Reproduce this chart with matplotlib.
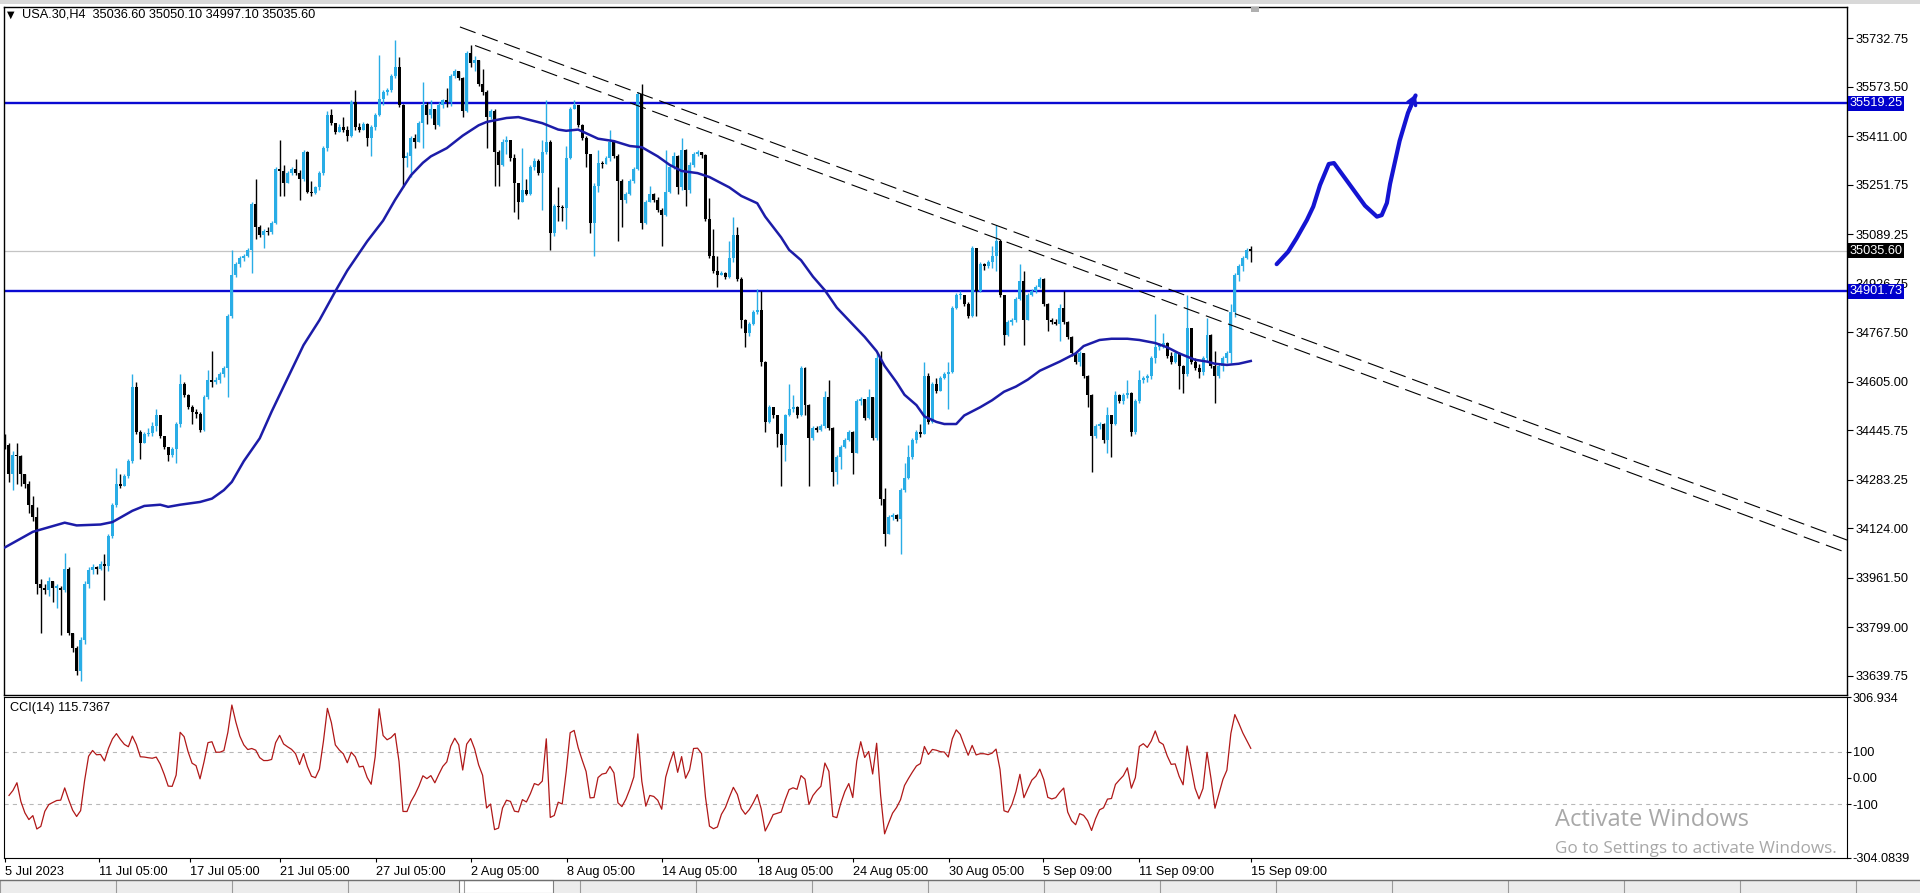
import numpy as np
import pandas as pd
import matplotlib
matplotlib.use('Agg')
import matplotlib.pyplot as plt
from matplotlib.patches import Rectangle
from matplotlib.transforms import blended_transform_factory

plt.rcParams['font.family'] = ['Liberation Sans', 'DejaVu Sans']
plt.rcParams['lines.scale_dashes'] = False

# ---- USA.30 H4 candles, open = previous close ----
first_open = 34419.0
close = [
    34398, 34303, 34364, 34360, 34303, 34269, 34201, 34160, 33942, 33929,
    33922, 33949, 33929, 33929, 33922, 33990, 33779, 33731, 33656, 33758,
    33942, 33985, 33995, 33990, 34005, 34000, 34099, 34201, 34269, 34262,
    34296, 34344, 34589, 34439, 34405, 34432, 34436, 34460, 34494, 34426,
    34392, 34364, 34385, 34466, 34596, 34562, 34521, 34507, 34500, 34446,
    34555, 34609, 34605, 34609, 34630, 34650, 34821, 34957, 34991, 35011,
    35018, 35038, 35188, 35113, 35086, 35100, 35095, 35127, 35304, 35297,
    35256, 35290, 35304, 35290, 35270, 35358, 35229, 35225, 35243, 35290,
    35372, 35481, 35454, 35426, 35440, 35433, 35413, 35522, 35440, 35433,
    35450, 35406, 35440, 35481, 35535, 35556, 35563, 35610, 35637, 35515,
    35338, 35345, 35406, 35392, 35454, 35515, 35480, 35500, 35447, 35515,
    35529, 35522, 35610, 35624, 35603, 35495, 35685, 35651, 35662, 35583,
    35556, 35474, 35495, 35358, 35317, 35392, 35400, 35338, 35256, 35195,
    35236, 35222, 35311, 35331, 35290, 35358, 35392, 35093, 35181, 35178,
    35174, 35338, 35501, 35515, 35447, 35406, 35352, 35127, 35249, 35324,
    35320, 35338, 35392, 35345, 35263, 35202, 35222, 35263, 35304, 35549,
    35127, 35195, 35222, 35202, 35168, 35154, 35229, 35311, 35345, 35243,
    35365, 35236, 35317, 35352, 35358, 35350, 35140, 35018, 34970, 34957,
    34963, 34950, 35011, 35086, 34943, 34807, 34766, 34793, 34834, 34841,
    34671, 34473, 34521, 34494, 34432, 34398, 34494, 34514, 34521, 34494,
    34650, 34528, 34419, 34453, 34446, 34460, 34555, 34453, 34310, 34358,
    34392, 34412, 34439, 34371, 34541, 34548, 34487, 34555, 34419, 34684,
    34221, 34106, 34160, 34167, 34153, 34249, 34289, 34358, 34412, 34439,
    34432, 34623, 34473, 34596, 34575, 34616, 34630, 34637, 34848, 34889,
    34890, 34861, 34821, 35045, 34902, 34991, 34984, 34998, 35018, 35066,
    34889, 34759, 34800, 34807, 34875, 34936, 34807, 34889, 34902, 34916,
    34943, 34861, 34807, 34800, 34796, 34848, 34800, 34752, 34698, 34671,
    34698, 34623, 34562, 34426, 34460, 34466, 34412, 34494, 34466, 34562,
    34541, 34562, 34569, 34439, 34541, 34609, 34616, 34623, 34684, 34718,
    34725, 34732, 34691, 34671, 34698, 34657, 34630, 34780, 34671, 34650,
    34637, 34684, 34759, 34657, 34623, 34657, 34684, 34698, 34834, 34957,
    34984, 35011, 35036.6, 35035.6,
]
high = [
    34432, 34405, 34378, 34405, 34364, 34303, 34279, 34228, 34194, 33956,
    33942, 33963, 33949, 33942, 33935, 34044, 33997, 33779, 33738, 33765,
    33949, 33997, 34005, 34000, 34015, 34038, 34106, 34208, 34323, 34303,
    34303, 34351, 34630, 34603, 34446, 34439, 34453, 34473, 34514, 34496,
    34428, 34392, 34392, 34473, 34630, 34603, 34564, 34528, 34514, 34505,
    34562, 34644, 34705, 34619, 34637, 34657, 34827, 35038, 34998, 35018,
    35025, 35045, 35195, 35270, 35120, 35106, 35113, 35134, 35311, 35399,
    35317, 35297, 35311, 35335, 35300, 35365, 35362, 35263, 35249, 35297,
    35379, 35494, 35501, 35454, 35450, 35474, 35444, 35529, 35563, 35454,
    35458, 35454, 35447, 35488, 35678, 35563, 35569, 35617, 35726, 35671,
    35518, 35358, 35413, 35417, 35460, 35590, 35522, 35529, 35495, 35522,
    35535, 35569, 35617, 35631, 35624, 35607, 35692, 35712, 35676, 35662,
    35631, 35563, 35501, 35501, 35365, 35403, 35413, 35399, 35352, 35259,
    35372, 35270, 35317, 35338, 35335, 35399, 35529, 35400, 35188, 35243,
    35185, 35379, 35508, 35529, 35515, 35450, 35413, 35352, 35256, 35365,
    35331, 35345, 35433, 35399, 35352, 35270, 35229, 35270, 35311, 35556,
    35583, 35202, 35249, 35226, 35213, 35177, 35365, 35317, 35358, 35350,
    35406, 35368, 35327, 35358, 35365, 35358, 35354, 35208, 35106, 35018,
    34970, 34966, 35066, 35147, 35113, 34950, 34810, 34800, 34841, 34909,
    34902, 34673, 34528, 34521, 34496, 34436, 34500, 34596, 34562, 34524,
    34657, 34654, 34532, 34460, 34460, 34466, 34575, 34609, 34456, 34364,
    34398, 34419, 34446, 34442, 34548, 34555, 34548, 34582, 34555, 34698,
    34705, 34255, 34167, 34174, 34170, 34255, 34337, 34398, 34419, 34446,
    34466, 34671, 34633, 34603, 34616, 34623, 34637, 34671, 34855, 34895,
    34902, 34889, 34868, 35052, 35045, 34998, 34995, 35004, 35052, 35120,
    35072, 34889, 34807, 34814, 34882, 34991, 34970, 34895, 34909, 34923,
    34950, 34946, 34864, 34814, 34810, 34861, 34902, 34804, 34755, 34701,
    34705, 34698, 34627, 34565, 34466, 34473, 34469, 34521, 34496, 34575,
    34564, 34568, 34609, 34572, 34548, 34644, 34623, 34630, 34691, 34827,
    34732, 34766, 34736, 34701, 34705, 34701, 34660, 34889, 34782, 34684,
    34664, 34691, 34814, 34763, 34705, 34664, 34691, 34705, 34861, 34963,
    34991, 35018, 35045, 35050.1,
]
low = [
    34385, 34276, 34249, 34269, 34262, 34255, 34174, 34147, 33908, 33779,
    33908, 33901, 33881, 33861, 33772, 33915, 33772, 33718, 33643, 33622,
    33745, 33929, 33975, 33975, 33985, 33888, 33983, 34092, 34194, 34255,
    34262, 34289, 34337, 34432, 34351, 34405, 34426, 34428, 34442, 34419,
    34385, 34344, 34358, 34337, 34456, 34555, 34514, 34466, 34487, 34439,
    34442, 34548, 34589, 34596, 34600, 34619, 34555, 34814, 34950, 34981,
    35000, 35014, 34963, 35072, 35079, 35045, 35086, 35090, 35123, 35215,
    35215, 35256, 35283, 35283, 35202, 35263, 35226, 35215, 35222, 35236,
    35283, 35362, 35447, 35420, 35426, 35426, 35395, 35409, 35433, 35425,
    35436, 35379, 35345, 35433, 35477, 35515, 35545, 35558, 35603, 35508,
    35243, 35311, 35277, 35372, 35392, 35372, 35450, 35471, 35436, 35444,
    35504, 35508, 35512, 35603, 35597, 35474, 35490, 35640, 35624, 35576,
    35545, 35372, 35467, 35249, 35249, 35313, 35352, 35331, 35161, 35140,
    35199, 35218, 35218, 35300, 35283, 35168, 35352, 35038, 35082, 35134,
    35134, 35106, 35335, 35499, 35440, 35399, 35311, 35093, 35018, 35229,
    35308, 35322, 35331, 35338, 35066, 35113, 35191, 35218, 35259, 35300,
    35106, 35123, 35205, 35195, 35161, 35052, 35150, 35226, 35305, 35222,
    35236, 35181, 35226, 35311, 35345, 35338, 35134, 35011, 34963, 34916,
    34954, 34943, 34946, 34997, 34936, 34780, 34718, 34755, 34790, 34827,
    34657, 34439, 34469, 34487, 34392, 34262, 34344, 34491, 34507, 34487,
    34491, 34494, 34262, 34415, 34439, 34442, 34453, 34446, 34262, 34269,
    34317, 34388, 34409, 34303, 34374, 34528, 34480, 34483, 34412, 34415,
    34201, 34065, 34112, 34151, 34147, 34038, 34242, 34287, 34351, 34405,
    34425, 34442, 34466, 34469, 34568, 34578, 34613, 34514, 34633, 34845,
    34878, 34855, 34814, 34818, 34821, 34899, 34973, 34977, 34977, 34970,
    34882, 34725, 34755, 34790, 34800, 34872, 34725, 34818, 34886, 34895,
    34913, 34855, 34773, 34793, 34790, 34739, 34793, 34746, 34691, 34664,
    34657, 34616, 34521, 34310, 34419, 34450, 34405, 34371, 34358, 34463,
    34535, 34532, 34551, 34426, 34432, 34535, 34600, 34605, 34613, 34668,
    34709, 34715, 34684, 34664, 34668, 34582, 34569, 34623, 34664, 34644,
    34616, 34627, 34671, 34650, 34535, 34616, 34641, 34668, 34668, 34818,
    34936, 34970, 35008, 34997.1,
]

# moving average (blue curve), sampled along the chart
ma_bar = [0, 7, 15, 18, 24, 27, 32, 35, 39, 41, 44, 49, 52, 55, 57, 60, 64, 67,
          70, 75, 79, 83, 86, 91, 95, 98, 100, 102, 105, 107, 111, 115, 119, 121,
          126, 129, 135, 139, 141, 144, 149, 151, 153, 157, 160, 164, 167, 170,
          174, 177, 182, 185, 189, 191, 195, 197, 200, 203, 206, 209, 213, 216,
          219, 221, 224, 226, 229, 231, 234, 236, 239, 241, 245, 248, 251, 254,
          257, 260, 265, 269, 271, 275, 278, 282, 285, 289, 292, 295, 299, 302,
          304, 307, 310, 313]
ma_val = [34061, 34112, 34142, 34133, 34136, 34144, 34181, 34197, 34201, 34194,
          34201, 34210, 34221, 34249, 34276, 34344, 34419, 34507, 34589, 34725,
          34807, 34902, 34970, 35066, 35134, 35202, 35243, 35283, 35324, 35345,
          35372, 35413, 35447, 35458, 35471, 35474, 35454, 35433, 35429, 35433,
          35403, 35399, 35395, 35379, 35375, 35345, 35317, 35297, 35290, 35277,
          35243, 35215, 35191, 35147, 35079, 35038, 35004, 34950, 34905, 34848,
          34793, 34752, 34705, 34657, 34603, 34562, 34528, 34491, 34473, 34466,
          34466, 34494, 34521, 34544, 34572, 34589, 34612, 34641, 34671, 34698,
          34722, 34742, 34746, 34746, 34742, 34732, 34718, 34698, 34677, 34671,
          34664, 34660, 34664, 34673]

res_level = 35519.25
sup_level = 34901.73
last_price = 35035.60

# dashed descending channel (bar, price)
upper_bar, upper_price = [114.3, 462.8], [35770, 34085]
lower_bar, lower_price = [118.1, 462.8], [35709, 34043]

# hand-drawn projection
proj_bar = [319.5, 322.4, 324.5, 327.1, 328.7, 330.4, 332.6, 333.9, 337.2,
            341.7, 344.7, 345.9, 347.2, 348.0, 350.4, 352.5, 354.4]
proj_price = [34991, 35032, 35076, 35136, 35180, 35251, 35320, 35323, 35264,
              35183, 35147, 35152, 35192, 35255, 35396, 35488, 35545]

price_ticks = [35732.75, 35573.50, 35411.00, 35251.75, 35089.25, 34926.75,
               34767.50, 34605.00, 34445.75, 34283.25, 34124.00, 33961.50,
               33799.00, 33639.75]
cci_ticks = [306.934, 100, 0, -100, -304.0839]
cci_labels = ['306.934', '100', '0.00', '-100', '-304.0839']
date_labels = ['5 Jul 2023', '11 Jul 05:00', '17 Jul 05:00', '21 Jul 05:00',
               '27 Jul 05:00', '2 Aug 05:00', '8 Aug 05:00', '14 Aug 05:00',
               '18 Aug 05:00', '24 Aug 05:00', '30 Aug 05:00', '5 Sep 09:00',
               '11 Sep 09:00', '15 Sep 09:00']
date_bars = [0, 23.6, 46.5, 69.1, 93.2, 117.1, 141.2, 165.1, 189.2, 213.1,
             237.2, 260.8, 284.9, 313.1]

bull = '#29ade6'
line_blue = '#0a0ad2'
ma_blue = '#1c1ca8'
fs = 9.2

W, H = 1920, 893
fig = plt.figure(figsize=(W / 100, H / 100), dpi=100)
fig.patch.set_facecolor('white')
ax = fig.add_axes([4 / W, 1 - 695 / H, 1843 / W, 688 / H])
ax2 = fig.add_axes([4 / W, 1 - 858 / H, 1843 / W, 161 / H], sharex=ax)

c = np.array(close, dtype=float)
o = np.r_[first_open, c[:-1]]
h = np.maximum(np.array(high, dtype=float), np.maximum(o, c))
l = np.minimum(np.array(low, dtype=float), np.minimum(o, c))
x = np.arange(len(c))
cols = np.where(c >= o, bull, 'black')

# price panel
ax.axhline(last_price, color='#c4c4c4', lw=0.9, zorder=1)
ax.axhline(res_level, color=line_blue, lw=1.7, zorder=2)
ax.axhline(sup_level, color=line_blue, lw=1.7, zorder=2)
ax.vlines(x, l, h, colors=cols, lw=1.0, zorder=3)
ax.bar(x, np.maximum(np.abs(c - o), 4), bottom=np.minimum(o, c), width=0.75,
       color=cols, linewidth=0, zorder=4)
ax.plot(ma_bar, ma_val, color=ma_blue, lw=1.8, zorder=5)
ax.plot(upper_bar, upper_price, color='black', lw=0.8, dashes=(12, 5), zorder=5)
ax.plot(lower_bar, lower_price, color='black', lw=0.8, dashes=(12, 5), zorder=5)
ax.plot(proj_bar, proj_price, color='#1414d2', lw=3, solid_capstyle='round',
        solid_joinstyle='round', zorder=6)
ax.annotate('', xy=(proj_bar[-1] + 0.3, proj_price[-1] + 12),
            xytext=(proj_bar[-2], proj_price[-2]),
            arrowprops=dict(arrowstyle='->,head_length=0.5,head_width=0.3',
                            color='#1414d2', lw=2.5), zorder=6)

ax.set_xlim(-0.25, 462.8)
ax.set_ylim(33576.1, 35835.5)
ax.yaxis.tick_right()
ax.set_yticks(price_ticks)
ax.set_yticklabels([f'{p:.2f}' for p in price_ticks])
ax.tick_params(axis='y', length=4, width=0.8, pad=2, labelsize=fs)
ax.tick_params(axis='x', bottom=False, labelbottom=False)
for s in ax.spines.values():
    s.set_linewidth(1.0)

tr = blended_transform_factory(ax.transAxes, ax.transData)
for val, txt, fc in [(res_level, '35519.25', '#0000cc'),
                     (sup_level, '34901.73', '#0000cc'),
                     (last_price, '35035.60', 'black')]:
    ax.text(1.0015, val, txt, transform=tr, ha='left', va='center',
            color='white', fontsize=fs, zorder=10,
            bbox=dict(boxstyle='square,pad=0.1', fc=fc, ec='none'))

ax.text(0.0015, 0.989, '\u25bc', transform=ax.transAxes, ha='left', va='center',
        fontsize=7, family=['DejaVu Sans'])
ax.text(0.0095, 0.989, 'USA.30,H4  35036.60 35050.10 34997.10 35035.60',
        transform=ax.transAxes, ha='left', va='center', fontsize=fs)

# CCI(14) panel
tp = pd.Series((h + l + c) / 3)
sma = tp.rolling(14, min_periods=1).mean()
mad = tp.rolling(14, min_periods=1).apply(lambda w: np.mean(np.abs(w - w.mean())), raw=True)
cci = (tp - sma) / (0.015 * mad)

ax2.axhline(100, color='#b8b8b8', lw=0.8, dashes=(3, 3))
ax2.axhline(-100, color='#b8b8b8', lw=0.8, dashes=(3, 3))
ax2.plot(x, cci, color='#b01818', lw=0.9)
ax2.set_ylim(-304.0839, 306.934)
ax2.yaxis.tick_right()
ax2.set_yticks(cci_ticks)
ax2.set_yticklabels(cci_labels)
ax2.tick_params(axis='y', length=3, width=0.8, pad=1, labelsize=fs)
ax2.set_xticks(date_bars)
ax2.set_xticklabels(date_labels)
ax2.tick_params(axis='x', length=3, width=0.8, pad=3, labelsize=fs)
for lab in ax2.get_xticklabels():
    lab.set_ha('left')
ax2.text(0.003, 0.93, 'CCI(14) 115.7367', transform=ax2.transAxes,
         ha='left', va='center', fontsize=fs)

# windows watermark
fig.text(1555 / W, 1 - 820 / H, 'Activate Windows', color='#a8a8a8',
         fontsize=17, family=['Open Sans', 'DejaVu Sans'], va='center')
fig.text(1555 / W, 1 - 849 / H, 'Go to Settings to activate Windows.',
         color='#a8a8a8', fontsize=12.3, family=['Open Sans', 'DejaVu Sans'],
         va='center')

# window chrome: top strip and the tab bar at the bottom
fig.add_artist(Rectangle((0, 1 - 4 / H), 1, 4 / H, transform=fig.transFigure,
                         fc='#d8d8d8', ec='none'))
fig.add_artist(Rectangle((0, 0), 1, 13 / H, transform=fig.transFigure,
                         fc='#ececec', ec='none'))
fig.add_artist(Rectangle((459 / W, 0), 94 / W, 13 / H, transform=fig.transFigure,
                         fc='white', ec='#808080', lw=0.8))
for tx in range(0, W, 116):
    fig.add_artist(plt.Line2D([tx / W, tx / W], [0, 12 / H],
                              transform=fig.transFigure, color='#9a9a9a', lw=0.8))
fig.add_artist(plt.Line2D([0, 1], [13 / H, 13 / H], transform=fig.transFigure,
                          color='#707070', lw=1))
fig.add_artist(Rectangle((1251 / W, 1 - 12 / H), 8 / W, 5 / H,
                         transform=fig.transFigure, fc='#b0b0b0', ec='none'))

fig.savefig('out.png', dpi=100)
